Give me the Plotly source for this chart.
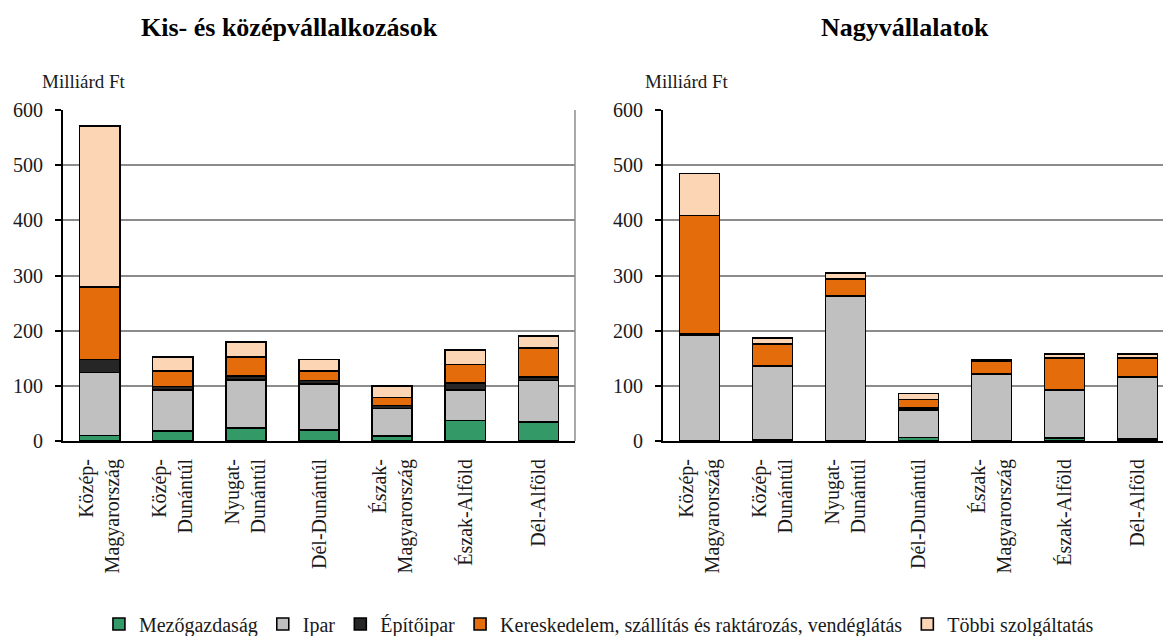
import plotly.graph_objects as go

regions = ["Közép-<br>Magyarország", "Közép-<br>Dunántúl", "Nyugat-<br>Dunántúl", "Dél-Dunántúl",
           "Észak-<br>Magyarország", "Észak-Alföld", "Dél-Alföld"]
sectors = ["Mezőgazdaság", "Ipar", "Építőipar",
           "Kereskedelem, szállítás és raktározás, vendéglátás", "Többi szolgáltatás"]
colors = ["#339966", "#C0C0C0", "#262626", "#E46C0A", "#FCD5B5"]

# Kis- és középvállalkozások (Milliárd Ft)
kkv_mezo = [10, 18, 23.5, 20, 9, 37, 34]
kkv_ipar = [114, 74, 87, 83, 50, 55.5, 75.5]
kkv_epito = [24, 7, 7, 7, 5, 13, 7]
kkv_ker = [131, 28, 35, 17, 15, 33, 52]
kkv_tobbi = [292, 25, 27, 20.5, 21, 26.5, 21.5]

# Nagyvállalatok (Milliárd Ft)
nagy_mezo = [1, 3, 0.5, 6, 0.5, 5, 4]
nagy_ipar = [190, 132, 262, 50, 120, 87, 112]
nagy_epito = [3, 1, 1, 4, 1, 1, 1]
nagy_ker = [215, 40, 30, 15, 24, 58, 34]
nagy_tobbi = [76, 11, 11, 11, 2, 7, 7]

kkv = [kkv_mezo, kkv_ipar, kkv_epito, kkv_ker, kkv_tobbi]
nagy = [nagy_mezo, nagy_ipar, nagy_epito, nagy_ker, nagy_tobbi]

FONT = "Liberation Serif"
TXT = "#1a1a1a"
fig = go.Figure()
for i, name in enumerate(sectors):
    fig.add_trace(go.Bar(x=regions, y=kkv[i], name=name, marker=dict(color=colors[i], line=dict(color="black", width=1.6)),
                         xaxis="x", yaxis="y", showlegend=True, legendgroup=name))
for i, name in enumerate(sectors):
    fig.add_trace(go.Bar(x=regions, y=nagy[i], name=name, marker=dict(color=colors[i], line=dict(color="black", width=1.6)),
                         xaxis="x2", yaxis="y2", showlegend=False, legendgroup=name))

yax = dict(range=[0, 600], dtick=100, showgrid=True, gridcolor="#8c8c8c", gridwidth=1.5,
           showline=True, linecolor="black", linewidth=2, ticks="outside", ticklen=6, tickwidth=1.5,
           tickcolor="black", ticklabelstandoff=8, tickfont=dict(family=FONT, size=20, color=TXT),
           zeroline=False, automargin=False)
xax = dict(type="category", showline=True, linecolor="black", linewidth=2, ticks="", tickangle=-90,
           tickfont=dict(family=FONT, size=20, color=TXT), showgrid=False, ticklabelstandoff=8,
           automargin=False)

fig.update_layout(
    width=1163, height=636, barmode="stack", bargap=0.45,
    paper_bgcolor="white", plot_bgcolor="white",
    margin=dict(l=0, r=0, t=110, b=195, autoexpand=False),
    xaxis=dict(domain=[0.0542, 0.4944], range=[-0.5, 6.5], anchor="y", **xax),
    yaxis=dict(domain=[0, 1], anchor="x", **yax),
    xaxis2=dict(domain=[0.570, 1.0], range=[-0.5, 6.35], anchor="y2", **xax),
    yaxis2=dict(domain=[0, 1], anchor="x2", **yax),
    legend=dict(orientation="h", x=0.515, xanchor="center", y=-0.553, yanchor="middle",
                font=dict(family=FONT, size=20, color=TXT), traceorder="normal"),
    font=dict(family=FONT),
    annotations=[
        dict(text="<b>Kis- és középvállalkozások</b>", x=0.249, y=1.248, xref="paper", yref="paper",
             showarrow=False, font=dict(family=FONT, size=26, color="black"), xanchor="center", yanchor="middle"),
        dict(text="<b>Nagyvállalatok</b>", x=0.778, y=1.248, xref="paper", yref="paper",
             showarrow=False, font=dict(family=FONT, size=26, color="black"), xanchor="center", yanchor="middle"),
        dict(text="Milliárd Ft", x=84 / 1163, y=1.085, xref="paper", yref="paper",
             showarrow=False, font=dict(family=FONT, size=19, color=TXT), xanchor="center", yanchor="middle"),
        dict(text="Milliárd Ft", x=687 / 1163, y=1.085, xref="paper", yref="paper",
             showarrow=False, font=dict(family=FONT, size=19, color=TXT), xanchor="center", yanchor="middle"),
    ],
    shapes=[
        dict(type="line", xref="x domain", yref="y domain", x0=1, x1=1, y0=0, y1=1,
             line=dict(color="#8c8c8c", width=1.5)),
    ],
)

fig.write_html("out.html", config={"displayModeBar": False},
               post_script="document.body.style.margin='0';")
